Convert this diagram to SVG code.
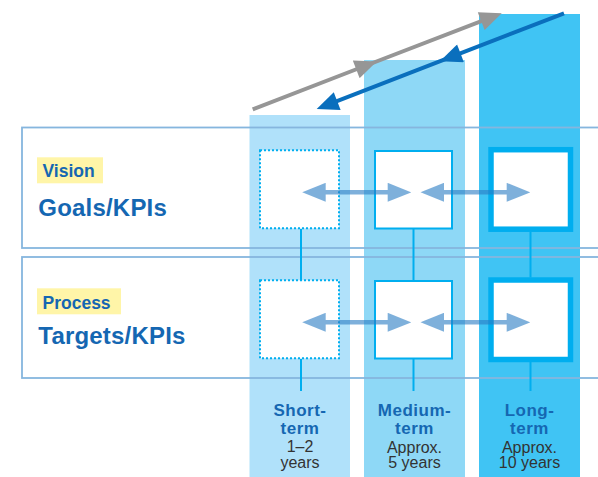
<svg xmlns="http://www.w3.org/2000/svg" width="598" height="477" viewBox="0 0 598 477">
  <style>
    .bar-s { fill: #b0e1fa; }
    .bar-m { fill: #8ed8f6; }
    .bar-l { fill: #40c4f4; }
    .frame { fill: none; stroke: #86b6de; stroke-width: 1.8; }
    .hl { fill: #fff5a8; }
    .tag { font-family: "Liberation Sans", Arial, sans-serif; font-weight: bold; font-size: 17.5px; fill: #1567b2; }
    .head { font-family: "Liberation Sans", Arial, sans-serif; font-weight: bold; font-size: 24px; fill: #1567b2; letter-spacing: 0.2px; }
    .term { font-family: "Liberation Sans", Arial, sans-serif; font-weight: bold; font-size: 17px; fill: #1567b2; text-anchor: middle; letter-spacing: 0.5px; }
    .span { font-family: "Liberation Sans", Arial, sans-serif; font-size: 16px; fill: #333333; text-anchor: middle; }
    .box { fill: #ffffff; stroke: #00aeef; stroke-width: 2; }
    .box-dot { fill: #ffffff; stroke: #00aeef; stroke-width: 2; stroke-dasharray: 2 2; }
    .box-thick { fill: #ffffff; stroke: #00aeef; stroke-width: 5.5; }
    .link { stroke: #00aeef; stroke-width: 2; fill: none; }
    .dbl { stroke: #2a7cc4; stroke-width: 4.5; fill: none; marker-start: url(#hz); marker-end: url(#hz); }
  </style>
  <defs>
    <marker id="hz" markerUnits="userSpaceOnUse" markerWidth="24" markerHeight="19" viewBox="0 0 23.5 19" refX="12" refY="9.5" orient="auto-start-reverse">
      <path d="M0,0 L23.5,9.5 L0,19 z" fill="#2a7cc4"/>
    </marker>
    <marker id="gray-head" markerUnits="userSpaceOnUse" markerWidth="23" markerHeight="19" viewBox="0 0 22 19" refX="12" refY="9.5" orient="auto">
      <path d="M0,0 L22,9.5 L0,19 z" fill="#969696"/>
    </marker>
    <marker id="blue-head" markerUnits="userSpaceOnUse" markerWidth="23" markerHeight="19" viewBox="0 0 22 19" refX="12" refY="9.5" orient="auto">
      <path d="M0,0 L22,9.5 L0,19 z" fill="#0a6fbd"/>
    </marker>
  </defs>

  <!-- time-horizon columns -->
  <g id="columns">
    <rect class="bar-s" x="249.5" y="115" width="100.5" height="362"/>
    <rect class="bar-m" x="364" y="60" width="101" height="417"/>
    <rect class="bar-l" x="479" y="14" width="101" height="463"/>
  </g>

  <!-- row frames -->
  <g id="rows">
    <rect class="frame" x="22" y="127.5" width="600" height="120.5"/>
    <rect class="frame" x="22" y="257" width="600" height="121"/>
  </g>

  <!-- row titles -->
  <g id="vision-row-label">
    <rect class="hl" x="37" y="157.3" width="66" height="26"/>
    <text class="tag" x="42.5" y="177.3">Vision</text>
    <text class="head" x="38.3" y="215.7">Goals/KPIs</text>
  </g>
  <g id="process-row-label">
    <rect class="hl" x="37" y="288.3" width="84" height="26"/>
    <text class="tag" x="42.5" y="308.5">Process</text>
    <text class="head" x="38.3" y="344">Targets/KPIs</text>
  </g>

  <!-- connectors -->
  <g id="connectors">
    <line class="link" x1="301" y1="229" x2="301" y2="280"/>
    <line class="link" x1="301" y1="359" x2="301" y2="391"/>
    <line class="link" x1="413.5" y1="229" x2="413.5" y2="281"/>
    <line class="link" x1="413.5" y1="359" x2="413.5" y2="391"/>
    <line class="link" x1="530.5" y1="232" x2="530.5" y2="277.5"/>
    <line class="link" x1="530.5" y1="362" x2="530.5" y2="391"/>
  </g>

  <!-- goal / target boxes -->
  <g id="vision-short"><rect class="box-dot" x="260" y="150.3" width="79" height="78"/></g>
  <g id="vision-medium"><rect class="box" x="375" y="151" width="77" height="77.5"/></g>
  <g id="vision-long"><rect class="box-thick" x="491" y="149.7" width="79.5" height="79.5"/></g>
  <g id="process-short"><rect class="box-dot" x="260" y="280.3" width="79" height="78"/></g>
  <g id="process-medium"><rect class="box" x="375" y="281" width="77" height="77.5"/></g>
  <g id="process-long"><rect class="box-thick" x="491" y="280" width="79.5" height="79.5"/></g>

  <!-- two-way links between horizons -->
  <g id="two-way-arrows" opacity="0.6">
    <line class="dbl" x1="313.7" y1="192.3" x2="399.7" y2="192.3"/>
    <line class="dbl" x1="432" y1="192.3" x2="518.7" y2="192.3"/>
    <line class="dbl" x1="313.7" y1="322.3" x2="399.7" y2="322.3"/>
    <line class="dbl" x1="432" y1="322.3" x2="518.7" y2="322.3"/>
  </g>

  <!-- forward and backward flow over the columns -->
  <g id="flow-arrows">
    <path d="M252.7,109.3 L367.4,65.0 L492.4,16.9" fill="none" stroke="#969696" stroke-width="4" marker-mid="url(#gray-head)" marker-end="url(#gray-head)"/>
    <path d="M564,13.3 L449.3,57.7 L326.0,105.4" fill="none" stroke="#0a6fbd" stroke-width="4" marker-mid="url(#blue-head)" marker-end="url(#blue-head)"/>
  </g>

  <!-- horizon labels -->
  <g id="label-short">
    <text class="term" x="300" y="415.5">Short-</text>
    <text class="term" x="300" y="433.5">term</text>
    <text class="span" x="300" y="452">1–2</text>
    <text class="span" x="300" y="467.5">years</text>
  </g>
  <g id="label-medium">
    <text class="term" x="414.5" y="415.5">Medium-</text>
    <text class="term" x="414.5" y="433.5">term</text>
    <text class="span" x="414.5" y="453">Approx.</text>
    <text class="span" x="414.5" y="468.3">5 years</text>
  </g>
  <g id="label-long">
    <text class="term" x="529.5" y="415.5">Long-</text>
    <text class="term" x="529.5" y="433.5">term</text>
    <text class="span" x="529.5" y="453">Approx.</text>
    <text class="span" x="529.5" y="468.3">10 years</text>
  </g>
</svg>
